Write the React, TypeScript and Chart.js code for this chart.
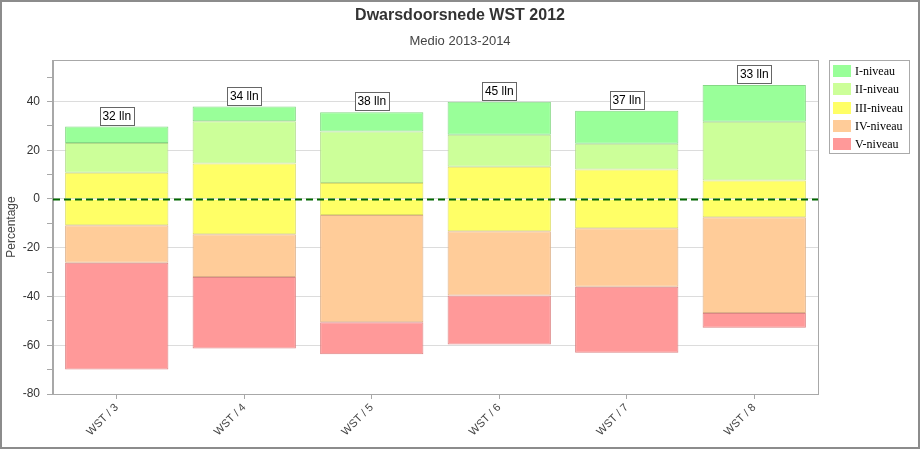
import React, { useEffect, useRef } from "react";
import { Chart, registerables } from "chart.js";

Chart.register(...registerables);

const categories = ["WST / 3", "WST / 4", "WST / 5", "WST / 6", "WST / 7", "WST / 8"];
const levelI = [6.7, 6.0, 7.9, 13.6, 13.5, 15.1];
const levelII = [12.2, 17.4, 21.1, 13.1, 10.6, 24.1];
const levelIII = [21.6, 29.0, 13.1, 26.4, 24.1, 15.1];
const levelIV = [15.4, 17.5, 44.0, 26.4, 24.0, 39.2];
const levelV = [43.7, 29.3, 13.1, 20.1, 27.0, 6.1];
const studentCounts = [32, 34, 38, 45, 37, 33];
const legendLabels = ["I-niveau", "II-niveau", "III-niveau", "IV-niveau", "V-niveau"];
const yTickValues = [-80, -70, -60, -50, -40, -30, -20, -10, 0, 10, 20, 30, 40, 50];

const FILL = ["#99ff99", "#ccff99", "#ffff66", "#ffcc99", "#ff9999"];
const EDGE = ["#85d885", "#b4dd8a", "#dede66", "#ddb088", "#dd8585"];

const SANS = "Arial, 'Liberation Sans', sans-serif";
const SERIF = "'Times New Roman', 'Liberation Serif', serif";

const decorPlugin = {
  id: "decor",
  beforeDraw(chart: any) {
    const { ctx, width, height } = chart;
    ctx.save();
    ctx.fillStyle = "#ffffff";
    ctx.fillRect(0, 0, width, height);
    ctx.restore();
  },
  afterDatasetsDraw(chart: any) {
    const { ctx, chartArea, scales } = chart;
    const y = scales.y;
    const x = scales.x;
    ctx.save();
    // zero line
    const y0 = Math.round(y.getPixelForValue(0)) + 0.5;
    ctx.strokeStyle = "#006600";
    ctx.lineWidth = 2;
    ctx.setLineDash([7, 4]);
    ctx.beginPath();
    ctx.moveTo(chartArea.left, y0);
    ctx.lineTo(chartArea.right, y0);
    ctx.stroke();
    ctx.setLineDash([]);
    // count labels
    ctx.font = `12px ${SANS}`;
    ctx.textAlign = "center";
    ctx.textBaseline = "middle";
    categories.forEach((_, i) => {
      const top = levelIII[i] / 2 + levelII[i] + levelI[i];
      const cx = x.getPixelForValue(i);
      const ty = y.getPixelForValue(top);
      const w = 34, h = 18;
      const bx = Math.round(cx - w / 2) + 0.5;
      const by = Math.round(ty - 2 - h) + 0.5;
      ctx.fillStyle = "#ffffff";
      ctx.fillRect(bx, by, w, h);
      ctx.strokeStyle = "#666666";
      ctx.lineWidth = 1;
      ctx.strokeRect(bx, by, w, h);
      ctx.fillStyle = "#000000";
      ctx.fillText(`${studentCounts[i]} lln`, cx, by + h / 2 + 0.5);
    });
    ctx.restore();
  },
  afterDraw(chart: any) {
    const { ctx, chartArea, width, height } = chart;
    ctx.save();
    // plot frame
    ctx.strokeStyle = "#a8a8a8";
    ctx.lineWidth = 1;
    ctx.strokeRect(
      Math.round(chartArea.left) - 0.5,
      Math.round(chartArea.top) + 0.5,
      Math.round(chartArea.right - chartArea.left) + 1,
      Math.round(chartArea.bottom - chartArea.top)
    );
    // titles
    ctx.fillStyle = "#333333";
    ctx.textAlign = "center";
    ctx.textBaseline = "middle";
    ctx.font = `bold 16px ${SANS}`;
    ctx.fillText("Dwarsdoorsnede WST 2012", 460, 16);
    ctx.fillStyle = "#444444";
    ctx.font = `13px ${SANS}`;
    ctx.fillText("Medio 2013-2014", 460, 41);
    // legend
    const lx = 829, ly = 60, lw = 80, lh = 93;
    ctx.fillStyle = "#ffffff";
    ctx.fillRect(lx + 0.5, ly + 0.5, lw, lh);
    ctx.strokeStyle = "#aaaaaa";
    ctx.strokeRect(lx + 0.5, ly + 0.5, lw, lh);
    ctx.textAlign = "left";
    ctx.font = `12px ${SERIF}`;
    legendLabels.forEach((lab, i) => {
      const sy = ly + 5 + i * 18.3;
      ctx.fillStyle = FILL[i];
      ctx.fillRect(833, Math.round(sy), 18, 12);
      ctx.fillStyle = "#000000";
      ctx.fillText(lab, 855, Math.round(sy) + 6.5);
    });
    // outer frame
    ctx.strokeStyle = "#8c8c8c";
    ctx.lineWidth = 2;
    ctx.strokeRect(1, 1, width - 2, height - 3);
    ctx.restore();
  },
};

function seg(label: string, data: number[], idx: number, skip: any) {
  return {
    label,
    data,
    backgroundColor: FILL[idx],
    borderColor: EDGE[idx],
    borderWidth: 1,
    borderSkipped: skip,
    stack: "s",
    categoryPercentage: 1,
    barPercentage: 0.81,
  };
}

export default function App() {
  const ref = useRef<HTMLCanvasElement | null>(null);
  useEffect(() => {
    if (!ref.current) return;
    const chart = new Chart(ref.current, {
      type: "bar",
      data: {
        labels: categories,
        datasets: [
          seg("III-niveau", levelIII.map((v) => v / 2), 2, "start"),
          seg("II-niveau", levelII, 1, false),
          seg("I-niveau", levelI, 0, false),
          seg("III-niveau (neg)", levelIII.map((v) => -v / 2), 2, "start"),
          seg("IV-niveau", levelIV.map((v) => -v), 3, false),
          seg("V-niveau", levelV.map((v) => -v), 4, false),
        ] as any,
      },
      options: {
        responsive: false,
        animation: false,
        layout: { padding: { left: 0, right: 102, top: 60, bottom: 0 } },
        plugins: {
          legend: { display: false },
          title: { display: false },
          tooltip: { enabled: false },
        },
        scales: {
          x: {
            stacked: true,
            grid: {
              offset: false,
              drawOnChartArea: false,
              tickLength: 5,
              color: "#a8a8a8",
            },
            border: { color: "#a8a8a8" },
            ticks: {
              minRotation: 45,
              maxRotation: 45,
              color: "#444444",
              font: { size: 11, family: SANS },
              padding: 2,
            },
            afterFit(scale: any) {
              scale.height = 56;
            },
          },
          y: {
            stacked: true,
            min: -80,
            max: 57,
            afterBuildTicks(scale: any) {
              scale.ticks = yTickValues.map((v) => ({ value: v }));
            },
            grid: {
              color: (c: any) => (c.tick && c.tick.value % 20 === 0 ? "#dcdcdc" : "rgba(0,0,0,0)"),
              tickColor: "#a8a8a8",
              tickLength: 6,
            },
            border: { color: "#a8a8a8" },
            ticks: {
              color: "#333333",
              font: { size: 12, family: SANS },
              padding: 7,
              autoSkip: false,
              callback: (v: any) => (Number(v) % 20 === 0 ? String(v) : ""),
            },
            title: {
              display: true,
              text: "Percentage",
              color: "#444444",
              font: { size: 12, family: SANS },
              padding: { top: 4, bottom: 0 },
            },
            afterFit(scale: any) {
              scale.width = 53;
            },
          },
        },
      },
      plugins: [decorPlugin],
    });
    return () => chart.destroy();
  }, []);
  return (
    <div style={{ position: "absolute", left: 0, top: 0, width: 920, height: 450 }}>
      <canvas ref={ref} width={920} height={450} style={{ width: 920, height: 450, display: "block" }} />
    </div>
  );
}
